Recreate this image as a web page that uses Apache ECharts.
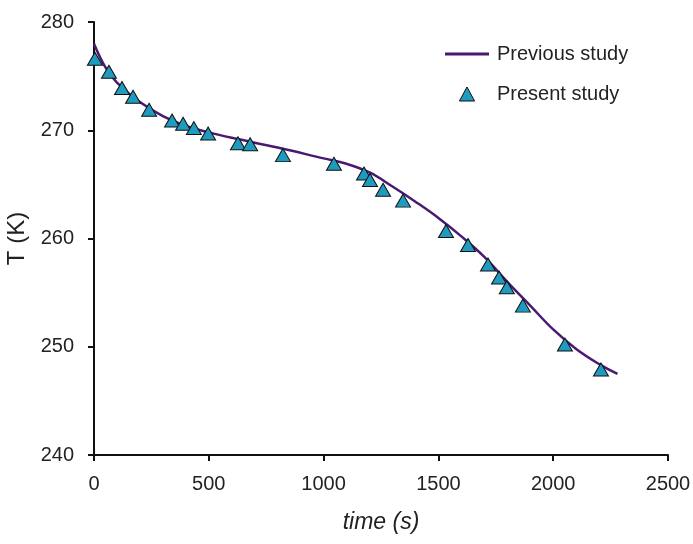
<!DOCTYPE html>
<html><head><meta charset="utf-8">
<script src="https://cdn.jsdelivr.net/npm/echarts@6/dist/echarts.min.js"></script>
<style>html,body{margin:0;padding:0;background:#fff}#c{width:693px;height:544px}</style>
</head><body><div id="c"></div>
<script>
// Previous study (continuous curve): [time s, T K]
const prevTime = [0, 50, 100, 200, 300, 400, 500, 600, 800, 1000, 1100, 1200, 1300, 1400, 1500, 1600, 1700, 1800, 1900, 2000, 2100, 2200, 2280];
const prevT    = [278.0, 275.8, 274.4, 272.6, 271.3, 270.4, 269.8, 269.3, 268.4, 267.4, 266.9, 266.1, 264.8, 263.4, 261.9, 260.2, 258.3, 256.0, 253.8, 251.6, 249.8, 248.4, 247.5];
// Present study (triangles)
const presTime = [4, 65, 122, 170, 240, 340, 388, 435, 497, 627, 680, 823, 1045, 1176, 1202, 1259, 1346, 1533, 1629, 1716, 1764, 1798, 1868, 2051, 2208];
const presT    = [276.6, 275.4, 273.9, 273.1, 271.9, 270.9, 270.6, 270.2, 269.7, 268.8, 268.7, 267.7, 266.9, 266.0, 265.4, 264.5, 263.5, 260.7, 259.4, 257.6, 256.4, 255.5, 253.8, 250.2, 247.9];
const xTicks = [0, 500, 1000, 1500, 2000, 2500];
const yTicks = [240, 250, 260, 270, 280];

const lineColor = '#4a1a72';
const triColor = '#1f9bc0';
const font = '"Liberation Sans", Arial, sans-serif';

const chart = echarts.init(document.getElementById('c'));
chart.setOption({
  backgroundColor: '#fff',
  animation: false,
  grid: {left: 94, right: 25, top: 22, bottom: 89, containLabel: false, outerBoundsMode: 'none'},
  legend: {
    orient: 'vertical', left: 440, top: 39, itemWidth: 44, itemHeight: 14, itemGap: 20,
    textStyle: {fontFamily: font, fontSize: 20, color: '#222', padding: [0,0,0,3]},
    data: [
      {name: 'Previous study', icon: 'path://M0,0 L44,0 L44,3 L0,3 Z', itemStyle: {color: lineColor}},
      {name: 'Present study', icon: 'path://M0,12 L6.5,0 L13,12 Z', itemStyle: {color: triColor, borderColor: '#111', borderWidth: 1}}
    ]
  },
  xAxis: {
    type: 'value', min: xTicks[0], max: xTicks[xTicks.length-1], interval: 500,
    name: 'time (s)', nameLocation: 'middle', nameGap: 56,
    nameTextStyle: {fontFamily: font, fontSize: 23, fontStyle: 'italic', color: '#222'},
    axisLine: {lineStyle: {color: '#111', width: 2}},
    axisTick: {show: true, length: 6, lineStyle: {color: '#111', width: 2}},
    axisLabel: {fontFamily: font, fontSize: 20, color: '#222', margin: 19, formatter: v => String(v)},
    splitLine: {show: false}
  },
  yAxis: {
    type: 'value', min: yTicks[0], max: yTicks[yTicks.length-1], interval: 10,
    name: 'T (K)', nameLocation: 'middle', nameGap: 59, nameRotate: 90,
    nameTextStyle: {fontFamily: font, fontSize: 24, color: '#222'},
    axisLine: {show: true, lineStyle: {color: '#111', width: 2}},
    axisTick: {show: true, length: 6, lineStyle: {color: '#111', width: 2}},
    axisLabel: {fontFamily: font, fontSize: 20, color: '#222', margin: 20},
    splitLine: {show: false}
  },
  series: [
    {
      name: 'Previous study', type: 'line', smooth: 0.4, showSymbol: false,
      data: prevTime.map((t, i) => [t, prevT[i]]),
      lineStyle: {color: lineColor, width: 2.5}, itemStyle: {color: lineColor}, z: 2
    },
    {
      name: 'Present study', type: 'scatter', symbol: 'triangle', symbolSize: [15, 13],
      data: presTime.map((t, i) => [t, presT[i]]),
      itemStyle: {color: triColor, borderColor: '#111', borderWidth: 1, opacity: 1}, z: 3
    }
  ]
});
</script></body></html>
